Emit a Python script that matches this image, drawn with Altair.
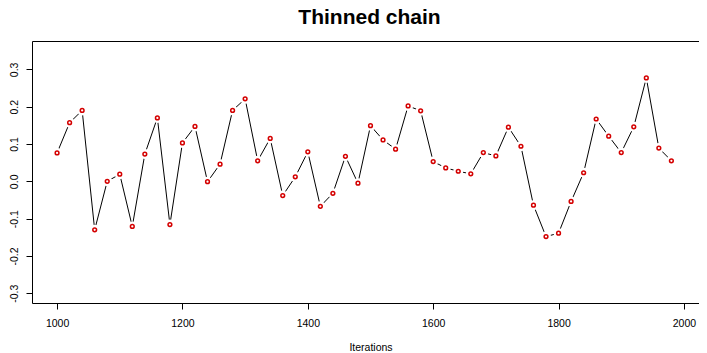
import altair as alt
import pandas as pd

iterations = [1000, 1020, 1040, 1060, 1080, 1100, 1120, 1140, 1160, 1180,
              1200, 1220, 1240, 1260, 1280, 1300, 1320, 1340, 1360, 1380,
              1400, 1420, 1440, 1460, 1480, 1500, 1520, 1540, 1560, 1580,
              1600, 1620, 1640, 1660, 1680, 1700, 1720, 1740, 1760, 1780,
              1800, 1820, 1840, 1860, 1880, 1900, 1920, 1940, 1960, 1980]
values = [0.076, 0.157, 0.190, -0.130, 0.000, 0.019, -0.121, 0.073, 0.170, -0.116,
          0.103, 0.147, -0.001, 0.046, 0.190, 0.221, 0.055, 0.115, -0.038, 0.012,
          0.079, -0.067, -0.032, 0.067, -0.005, 0.149, 0.111, 0.086, 0.202, 0.189,
          0.053, 0.036, 0.027, 0.020, 0.077, 0.068, 0.145, 0.094, -0.064, -0.148,
          -0.139, -0.054, 0.023, 0.167, 0.121, 0.077, 0.146, 0.277, 0.089, 0.055]
x_ticks = [1000, 1200, 1400, 1600, 1800, 2000]
y_ticks = [-0.3, -0.2, -0.1, 0.0, 0.1, 0.2, 0.3]
title_text = ["Thinned chain"]

df = pd.DataFrame({"iteration": iterations, "value": values})
title_df = pd.DataFrame({"label": title_text})

FONT = "Liberation Sans"

base = alt.Chart(df).encode(
    x=alt.X("iteration:Q",
            scale=alt.Scale(domain=[960, 2040], nice=False, zero=False),
            axis=alt.Axis(values=x_ticks, title="Iterations", format="d",
                          labelPadding=9.8, titlePadding=13, labelFlush=False)),
    y=alt.Y("value:Q",
            scale=alt.Scale(domain=[-0.326, 0.376], nice=False, zero=False),
            axis=alt.Axis(values=y_ticks, title=None,
                          labelExpr="replace(format(datum.value, '.1f'), '\u2212', '-')",
                          labelAngle=270, labelAlign="center", labelBaseline="bottom",
                          labelPadding=6.5, labelFlush=False)),
)

line = base.mark_line(color="black", strokeWidth=1)
halo = base.mark_circle(color="white", size=100, opacity=1)
pts = base.mark_circle(fill="white", stroke="#D40000", strokeWidth=1.5, size=14, opacity=1)

title = alt.Chart(title_df).mark_text(
    font=FONT, fontSize=21, fontWeight="bold", color="black",
    align="center", baseline="alphabetic",
).encode(text="label:N", x=alt.value(337.5), y=alt.value(-16.8))

chart = alt.layer(line, halo, pts, title).properties(
    width=677,
    height=262,
    padding={"left": 24, "top": 33, "right": -10, "bottom": 50},
    autosize=alt.AutoSizeParams(type="none"),
).configure_view(
    stroke="black", strokeWidth=1
).configure_axis(
    domain=False, grid=False, ticks=True, tickColor="black", tickSize=6, tickWidth=1,
    labelFont=FONT, labelFontSize=10.5, labelColor="black", labelOverlap=False,
    titleFont=FONT, titleFontSize=10.5, titleFontWeight="normal", titleColor="black",
)

chart.save("out.html", embed_options={"renderer": "svg", "actions": False})
